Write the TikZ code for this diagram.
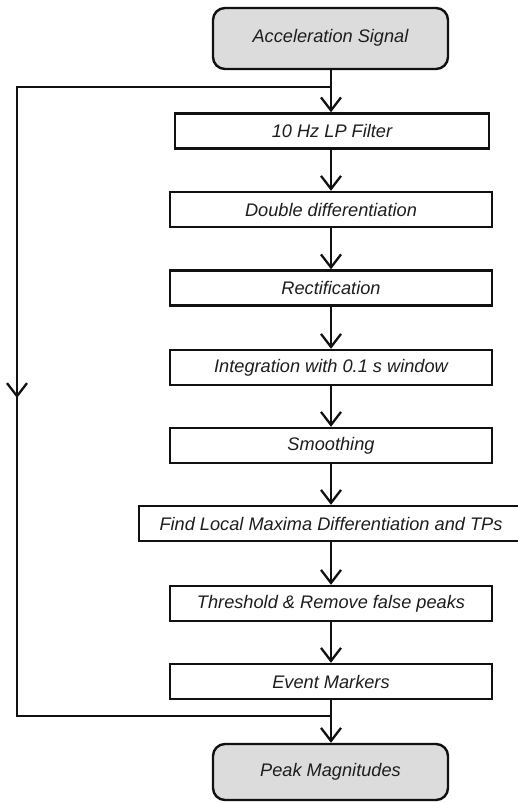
\documentclass[tikz,border=0pt]{standalone}
\usepackage{fontspec}
\setmainfont{Liberation Sans}
\usetikzlibrary{arrows.meta}
\definecolor{inkline}{HTML}{111111}
\definecolor{inktext}{HTML}{1E1E1E}
\definecolor{termfill}{HTML}{DCDCDC}
\begin{document}
\begin{tikzpicture}[x=1pt, y=-1pt,
  txt/.style={font=\fontsize{18.2}{22}\selectfont\itshape, text=inktext},
  procbox/.style={txt, draw=inkline, line width=2.4pt, fill=white,
    inner sep=0pt, minimum width=322pt, minimum height=35pt},
  termbox/.style={txt, draw=inkline, line width=2.4pt, fill=termfill,
    rounded corners=12pt, inner sep=0pt, minimum width=235pt},
  flow/.style={draw=inkline, line width=2.3pt,
    -{Straight Barb[length=13pt, width=20pt, line width=2.3pt]}},
  wire/.style={draw=inkline, line width=2.3pt}
]
\useasboundingbox (0,0) rectangle (518,803);

% terminals
\node[termbox, minimum height=61pt] (src) at (330.5,38.5) {\raisebox{5pt}{Acceleration Signal}};
\node[termbox, minimum height=56pt] (peak) at (330.5,772) {\raisebox{4pt}{Peak Magnitudes}};

% processing chain
\node[procbox, minimum width=314pt] (lp) at (332,131) {10 Hz LP Filter};
\node[procbox] (dd)  at (331,209.5) {Double differentiation};
\node[procbox] (rec) at (331,288)   {Rectification};
\node[procbox] (int) at (331,367.5) {Integration with 0.1 s window};
\node[procbox] (smo) at (331,445.5) {Smoothing};
\node[procbox, minimum width=384pt] (fnd) at (331,523.5) {Find Local Maxima Differentiation and TPs};
\node[procbox] (thr) at (331,603.5) {Threshold \& Remove false peaks};
\node[procbox] (evt) at (331,681.5) {Event Markers};

% branch and merge points of the bypass line
\coordinate (split) at (331,87);
\coordinate (merge) at (331,716);
\coordinate (cornerA) at (17,87);
\coordinate (cornerB) at (17,716);
\coordinate (midarrow) at (17,398);

% main flow
\draw[flow] (src.south -| split) -- (lp.north -| split);
\draw[flow] (lp.south -| dd) -- (dd.north);
\draw[flow] (dd) -- (rec);
\draw[flow] (rec) -- (int);
\draw[flow] (int) -- (smo);
\draw[flow] (smo) -- (fnd);
\draw[flow] (fnd) -- (thr);
\draw[flow] (thr) -- (evt);
\draw[flow] (evt.south -| merge) -- (peak.north -| merge);

% bypass line on the left
\draw[wire] (split) -- (cornerA) -- (cornerB) -- (merge);
\draw[flow] (cornerA) -- (midarrow);
\end{tikzpicture}
\end{document}
